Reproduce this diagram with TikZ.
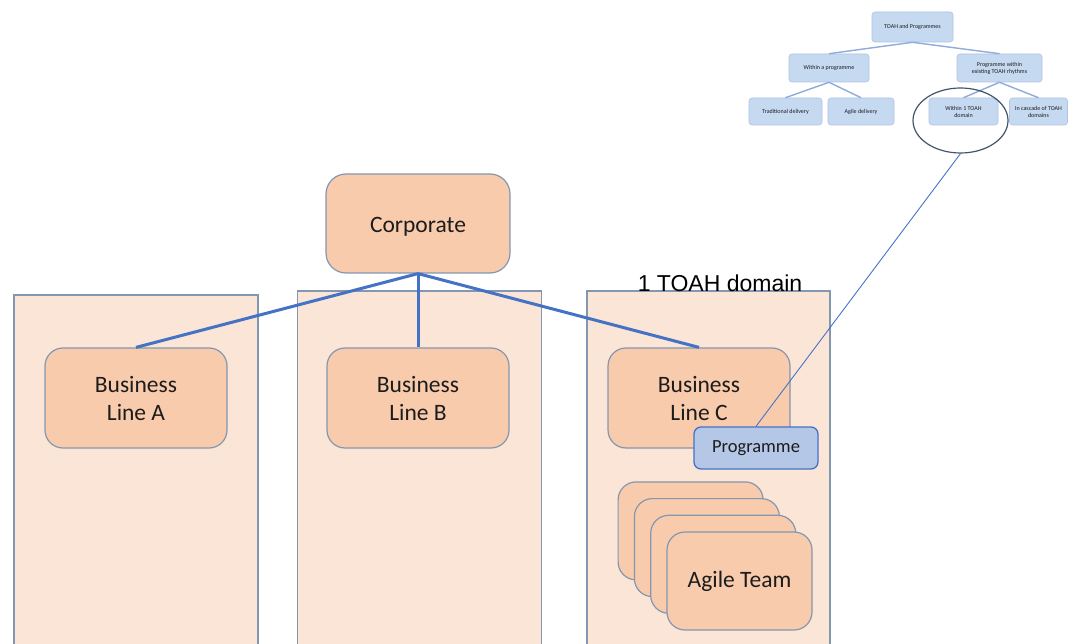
\documentclass[tikz,border=0pt]{standalone}
\usepackage{fontspec}
\setmainfont{Carlito}
\newfontfamily\arialfont{Liberation Sans}
\usetikzlibrary{shapes.geometric}

\definecolor{peach}{HTML}{F8CBAD}
\definecolor{panelfill}{HTML}{FBE5D6}
\definecolor{edgegray}{HTML}{8497B0}
\definecolor{linkblue}{HTML}{4472C4}
\definecolor{progfill}{HTML}{B4C7E7}
\definecolor{treefill}{HTML}{C5D9F1}
\definecolor{treeedge}{HTML}{8FAADC}
\definecolor{ringgray}{HTML}{44546A}
\definecolor{ink}{HTML}{1C1C1C}

\tikzset{
  unitbox/.style={draw=edgegray, line width=1.2pt, fill=peach, rounded corners=18pt,
    text=ink, font=\fontsize{23.5}{28}\selectfont, align=center, inner sep=0pt,
    minimum width=182pt, minimum height=100pt},
  panel/.style={draw=edgegray, line width=1.2pt, fill=panelfill, inner sep=0pt,
    minimum width=244pt, minimum height=357pt},
  teambox/.style={unitbox, minimum width=145pt, minimum height=98pt},
  progbox/.style={draw=linkblue, line width=1.3pt, fill=progfill, rounded corners=7pt,
    text=ink, font=\fontsize{18.5}{22}\selectfont, inner sep=0pt,
    minimum width=124pt, minimum height=42pt},
  treebox/.style={draw=treeedge!70, line width=0.6pt, fill=treefill, rounded corners=3pt,
    text=ink, font=\fontsize{6}{7}\selectfont, align=center, inner sep=0pt,
    minimum height=28pt},
  treelink/.style={draw=treeedge, line width=1.4pt},
  orglink/.style={draw=linkblue, line width=3pt},
  pointer/.style={draw=linkblue, line width=0.9pt},
}

\begin{document}
\begin{tikzpicture}[x=1pt,y=-1pt]
  \useasboundingbox (0,0) rectangle (1071,644);
  \clip (0,0) rectangle (1071,644);
  \fill[white] (0,0) rectangle (1071,644);

  % background panels, one per business line
  \node[panel] (panelA) at (136,473.5) {};
  \node[panel, minimum height=361pt] (panelB) at (419.5,471.5) {};
  \node[panel, minimum height=361pt, minimum width=243pt] (panelC) at (708.5,471.5) {};
  \node[font=\arialfont\fontsize{23}{27}\selectfont, text=black, anchor=base, inner sep=0pt]
    (domainlabel) at (720,292) {1 TOAH domain};

  % organisation hierarchy
  \node[unitbox, minimum width=184pt, minimum height=99pt, rounded corners=20pt]
    (corp) at (418,223.5) {\raisebox{-3.5pt}[\height][\depth]{Corporate}};
  \node[unitbox] (blA) at (136,398) {Business\\Line A};
  \node[unitbox] (blB) at (418,398) {Business\\Line B};
  \node[unitbox] (blC) at (699,398) {Business\\Line C};

  \draw[orglink] (corp.south) -- (blA.north);
  \draw[orglink] (corp.south) -- (blB.north);
  \draw[orglink] (corp.south) -- (blC.north);

  \node[progbox] (prog) at (756,448) {Programme};

  % stack of agile teams
  \node[teambox] (team1) at (690.6,530.9) {};
  \node[teambox] (team2) at (706.9,547.6) {};
  \node[teambox] (team3) at (723.2,564.3) {};
  \node[teambox] (team4) at (739.5,581) {Agile Team};

  % small taxonomy tree
  \node[treebox, minimum width=81pt, minimum height=30pt] (troot) at (912.5,27) {TOAH and Programmes};
  \node[treebox, minimum width=80pt] (twithin) at (829,68) {Within a programme};
  \node[treebox, minimum width=85pt] (texist) at (999.5,68) {Programme within\\existing TOAH rhythms};
  \node[treebox, minimum width=73pt, minimum height=27pt] (ttrad) at (785.5,111.5) {Traditional delivery};
  \node[treebox, minimum width=66pt, minimum height=27pt] (tagile) at (861,111.5) {Agile delivery};
  \node[treebox, minimum width=69pt, minimum height=27pt] (tone) at (963.5,111.5) {Within 1 TOAH\\domain};
  \node[treebox, minimum width=58pt, minimum height=27pt] (tcasc) at (1038.5,111.5) {In cascade of TOAH\\domains};

  \draw[treelink] (troot.south) -- (twithin.north);
  \draw[treelink] (troot.south) -- (texist.north);
  \draw[treelink] (twithin.south) -- (ttrad.north);
  \draw[treelink] (twithin.south) -- (tagile.north);
  \draw[treelink] (texist.south) -- (tone.north);
  \draw[treelink] (texist.south) -- (tcasc.north);

  \node[ellipse, draw=ringgray, line width=1.2pt, minimum width=95pt, minimum height=65pt,
    inner sep=0pt] (ring) at (960.5,120.5) {};

  \draw[pointer] (prog.north) -- (ring.south);
\end{tikzpicture}
\end{document}
